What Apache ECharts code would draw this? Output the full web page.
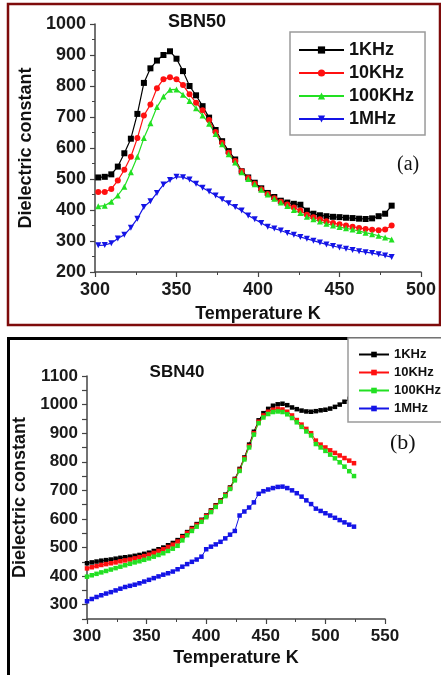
<!DOCTYPE html>
<html lang="en">
<head>
    <meta charset="UTF-8">
    <title>SBN dielectric constant</title>
    <style>
        html, body {margin: 0; padding: 0; background: #fff;}
    </style>
</head>
<body>
<div id="chart" style="width: 441px;height: 675px;"></div>
<script type="text/javascript" src="https://cdn.jsdelivr.net/npm/echarts@6/dist/echarts.min.js"></script>
<script type="text/javascript">
    // (a) SBN50, temperature in K
    let tempA = [302, 306, 310, 314, 318, 322, 326, 330, 334, 338, 342, 346, 350, 354, 358, 362,
        366, 370, 374, 378, 382, 386, 390, 394, 398, 402, 406, 410, 414, 418,
        422, 426, 430, 434, 438, 442, 446, 450, 454, 458, 462, 466, 470, 474, 478, 482];
    let a1K = [505, 507, 515, 540, 583, 630, 710, 810, 857, 882, 900, 912, 888, 848, 800, 770,
        735, 698, 658, 622, 590, 563, 525, 505, 488, 470, 455, 442, 430, 424,
        420, 417, 398, 388, 383, 380, 378, 377, 375, 374, 372, 371, 373, 380, 388, 414];
    let a10K = [458, 458, 468, 495, 530, 572, 632, 705, 740, 793, 822, 828, 822, 803, 773, 746,
        722, 690, 652, 617, 585, 558, 525, 503, 485, 467, 452, 438, 427, 418,
        408, 398, 385, 377, 370, 364, 358, 354, 350, 346, 342, 339, 336, 335, 337, 350];
    let a100K = [412, 414, 427, 447, 475, 522, 572, 632, 680, 732, 766, 788, 789, 772, 752, 728,
        705, 678, 645, 612, 580, 553, 522, 500, 483, 465, 450, 436, 424, 413,
        400, 390, 378, 370, 363, 356, 350, 345, 341, 337, 332, 327, 322, 317, 311, 305];
    let a1M = [286, 287, 293, 308, 320, 343, 372, 410, 428, 455, 482, 497, 507, 506, 498, 485,
        472, 460, 447, 435, 422, 410, 398, 382, 370, 358, 346, 340, 334, 326,
        320, 313, 307, 301, 295, 289, 284, 279, 275, 271, 267, 264, 261, 257, 253, 248];

    // (b) SBN40
    let tempB = [300, 304, 308, 312, 316, 320, 324, 328, 332, 336,
        340, 344, 348, 352, 356, 360, 364, 368, 372, 376,
        380, 384, 388, 392, 396, 400, 404, 408, 412, 416,
        420, 424, 428, 432, 436, 440, 444, 448, 452, 456,
        460, 464, 468, 472, 476, 480, 484, 488, 492, 496,
        500, 504, 508, 512, 516, 520, 524];
    let b1K = [445, 448, 451, 454, 456, 458, 461, 464, 466, 468,
        471, 474, 478, 482, 488, 494, 500, 508, 516, 526,
        540, 554, 568, 582, 597, 612, 630, 648, 665, 685,
        710, 740, 775, 815, 860, 905, 945, 970, 985, 996,
        1001, 1003, 998, 990, 984, 979, 976, 975, 977, 980,
        982, 986, 992, 1000, 1010, 1020, 1028];
    let b10K = [427, 431, 435, 439, 442, 445, 448, 452, 455, 458,
        462, 466, 470, 475, 481, 488, 494, 502, 510, 521,
        536, 551, 565, 579, 595, 610, 628, 646, 663, 683,
        708, 738, 772, 812, 855, 900, 940, 962, 975, 982,
        985, 983, 975, 962, 946, 930, 915, 900, 874, 860,
        850, 840, 831, 822, 813, 804, 795];
    let b100K = [398, 403, 408, 413, 418, 423, 428, 433, 438, 443,
        448, 452, 457, 462, 468, 474, 480, 488, 496, 506,
        525, 543, 558, 573, 590, 606, 624, 642, 660, 680,
        705, 735, 768, 808, 850, 895, 935, 955, 967, 974,
        976, 974, 966, 953, 938, 922, 906, 892, 862, 850,
        838, 825, 812, 798, 783, 767, 750];
    let b1M = [312, 320, 327, 333, 339, 344, 350, 356, 362, 366,
        370, 375, 381, 387, 393, 399, 405, 410, 416, 424,
        433, 442, 450, 458, 468, 494, 503, 511, 520, 532,
        545, 558, 612, 626, 640, 658, 688, 697, 703, 708,
        712, 713, 708, 700, 690, 678, 665, 652, 636, 628,
        620, 612, 604, 596, 588, 580, 573];

    let freqs = ['1KHz', '10KHz', '100KHz', '1MHz'];
    let colors = ['#000000', '#ff1010', '#22e022', '#1414e6'];

    const FONT = '"Liberation Sans", Arial, sans-serif';
    const AXIS_COLOR = '#444';

    let myChart = echarts.init(document.getElementById('chart'));

    function zip(xs, ys) {
        return xs.map(function (x, i) {
            return [x, ys[i]];
        });
    }

    function getLine(name, data, color, symbol, size, idx, rotate) {
        return {
            type: 'line',
            name: name,
            data: data,
            xAxisIndex: idx,
            yAxisIndex: idx,
            symbol: symbol,
            symbolSize: size,
            symbolRotate: rotate || 0,
            showSymbol: true,
            color: color,
            lineStyle: {width: 1.2, color: color},
            itemStyle: {color: color},
            emphasis: {disabled: true}
        };
    }

    function getAxis(idx, o) {
        return {
            type: 'value',
            gridIndex: idx,
            min: o.min,
            max: o.max,
            interval: o.interval,
            name: o.name,
            nameLocation: 'middle',
            nameGap: o.nameGap,
            nameTextStyle: {fontFamily: FONT, fontWeight: 'bold', fontSize: 18, color: '#111'},
            axisLine: {onZero: false, lineStyle: {color: AXIS_COLOR, width: 1.5}},
            axisTick: {show: true, length: 5, lineStyle: {color: AXIS_COLOR, width: 1.2}},
            minorTick: {show: !!o.minor, splitNumber: 2, length: 3, lineStyle: {color: AXIS_COLOR, width: 1}},
            splitLine: {show: false},
            axisLabel: {
                margin: 9,
                fontFamily: FONT,
                fontWeight: 'bold',
                fontSize: o.fontSize,
                color: '#1a1a1a',
                // plain numbers, no thousands separator
                formatter: o.formatter || function (v) {
                    return String(v);
                }
            }
        };
    }

    function getLegend(names, o) {
        return {
            orient: 'vertical',
            left: o.left,
            top: o.top,
            data: names,
            itemWidth: o.itemWidth,
            itemHeight: o.itemHeight,
            itemGap: 5,
            padding: o.padding,
            backgroundColor: '#fff',
            borderColor: '#9a9a9a',
            borderWidth: 1.5,
            borderRadius: 0,
            selectedMode: false,
            formatter: function (n) {
                return n.trim();
            },
            textStyle: {fontFamily: FONT, fontWeight: 'bold', fontSize: o.fontSize, color: '#111'}
        };
    }

    // upper panel shapes: square, circle, up and down triangles
    let shapesA = [['rect', 0], ['circle', 0], ['triangle', 0], ['triangle', 180]];
    let seriesA = [a1K, a10K, a100K, a1M];
    let seriesB = [b1K, b10K, b100K, b1M];
    // same names would share one legend entry, so the lower panel gets a trailing space
    let namesB = freqs.map(function (f) {
        return f + ' ';
    });

    let series = [];
    seriesA.forEach(function (vals, i) {
        series.push(getLine(freqs[i], zip(tempA, vals), colors[i], shapesA[i][0], 6, 0, shapesA[i][1]));
    });
    seriesB.forEach(function (vals, i) {
        let s = getLine(namesB[i], zip(tempB, vals), colors[i], 'rect', 4.5, 1);
        s.lineStyle.width = 1;
        series.push(s);
    });

    function text(str, x, y, font, align, vAlign) {
        return {
            type: 'text',
            x: x,
            y: y,
            z: 10,
            style: {
                text: str,
                font: font,
                fill: '#111',
                align: align, textAlign: align,
                verticalAlign: vAlign, textVerticalAlign: vAlign
            }
        };
    }

    let option = {
        animation: false,
        backgroundColor: '#fff',
        grid: [
            {left: 95, top: 24, width: 326, height: 248},
            {left: 87, top: 376, width: 298, height: 243}
        ],
        xAxis: [
            getAxis(0, {min: 300, max: 500, interval: 50, minor: true, name: 'Temperature K', nameGap: 33, fontSize: 18}),
            getAxis(1, {min: 300, max: 550, interval: 50, minor: true, name: 'Temperature K', nameGap: 30, fontSize: 17})
        ],
        yAxis: [
            getAxis(0, {min: 200, max: 1000, interval: 100, minor: true, name: 'Dielectric constant', nameGap: 60, fontSize: 18}),
            getAxis(1, {
                min: 250, max: 1100, interval: 50, minor: false, name: 'Dielectric constant', nameGap: 40, fontSize: 17,
                formatter: function (v) {
                    return v % 100 === 0 ? String(v) : '';
                }
            })
        ],
        legend: [
            getLegend(freqs, {left: 290, top: 32, itemWidth: 45, itemHeight: 9, padding: [9, 11, 7, 8], fontSize: 18}),
            getLegend(namesB, {left: 348, top: 338, itemWidth: 30, itemHeight: 7, padding: [10, 30, 7, 10], fontSize: 13})
        ],
        graphic: [
            // panel frames
            {type: 'rect', z: 0, shape: {x: 8, y: 4, width: 432, height: 321}, style: {fill: 'none', stroke: '#7e0b0b', lineWidth: 2.5}},
            {type: 'rect', z: 0, shape: {x: 8.5, y: 338.5, width: 460, height: 400}, style: {fill: 'none', stroke: '#000', lineWidth: 3}},
            text('SBN50', 197, 13.5, 'bold 18px ' + FONT, 'center', 'top'),
            text('SBN40', 177, 363.5, 'bold 17px ' + FONT, 'center', 'top'),
            text('(a)', 397, 165, '20px "Liberation Serif", "Times New Roman", serif', 'left', 'middle'),
            text('(b)', 390, 443, '22px "Liberation Serif", "Times New Roman", serif', 'left', 'middle')
        ],
        series: series
    };

    myChart.setOption(option);
</script>
</body>
</html>
